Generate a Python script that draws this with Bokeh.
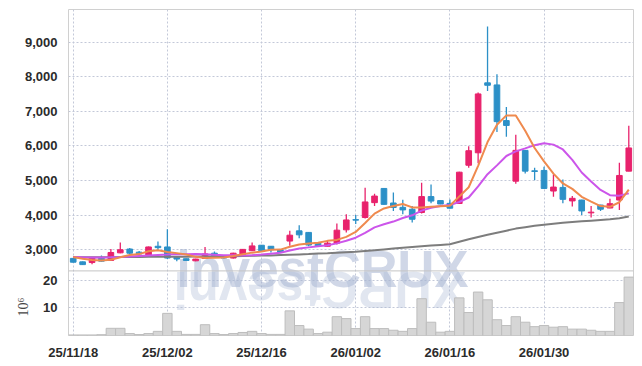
from bokeh.plotting import figure
from bokeh.models import Range1d, FixedTicker, ColumnDataSource, NumeralTickFormatter, Span, Title
from bokeh.embed import file_html
from bokeh.resources import INLINE
from bokeh.core.properties import value

# ---------------- data ----------------
dates = ["25/11/18", "25/11/19", "25/11/20", "25/11/21", "25/11/24", "25/11/25", "25/11/26", "25/11/27",
         "25/11/28", "25/12/01", "25/12/02", "25/12/03", "25/12/04", "25/12/05", "25/12/08", "25/12/09",
         "25/12/10", "25/12/11", "25/12/12", "25/12/15", "25/12/16", "25/12/17", "25/12/18", "25/12/19",
         "25/12/22", "25/12/23", "25/12/24", "25/12/26", "25/12/29", "25/12/30", "26/01/02", "26/01/05",
         "26/01/06", "26/01/07", "26/01/08", "26/01/09", "26/01/12", "26/01/13", "26/01/14", "26/01/15",
         "26/01/16", "26/01/19", "26/01/20", "26/01/21", "26/01/22", "26/01/23", "26/01/26", "26/01/27",
         "26/01/28", "26/01/29", "26/01/30", "26/02/02", "26/02/03", "26/02/04", "26/02/05", "26/02/06",
         "26/02/09", "26/02/10", "26/02/11", "26/02/12"]

opens = [2750, 2650, 2630, 2750, 2690, 2910, 3020, 2930, 2830, 3100,
         3080, 2780, 2740, 2680, 2750, 2900, 2820, 2760, 2860, 2970,
         3130, 3100, 3000, 3250, 3545, 3500, 3190, 3100, 3190, 3575,
         3870, 3930, 4360, 4770, 4350, 4225, 4170, 4075, 4535, 4420,
         4340, 4335, 5440, 5800, 7820, 7760, 6730, 4980, 5870, 5280,
         5290, 4695, 4800, 4410, 4435, 4065, 4290, 4205, 4435, 5270]
highs = [2760, 2660, 2770, 2830, 3020, 3210, 3050, 2960, 3090, 3240,
         3590, 2790, 2750, 2740, 3080, 2950, 2830, 2910, 3020, 3210,
         3140, 3110, 3010, 3545, 3710, 3510, 3200, 3260, 3760, 4025,
         4000, 4790, 4620, 4780, 4650, 4440, 4260, 4935, 4885, 4425,
         4450, 5250, 5990, 7540, 9450, 8070, 7120, 6320, 5880, 5370,
         5395, 5170, 5030, 4550, 4440, 4265, 4300, 4475, 5510, 6580]
lows = [2630, 2560, 2580, 2660, 2680, 2900, 2860, 2850, 2820, 3000,
        2730, 2670, 2680, 2670, 2740, 2800, 2750, 2750, 2850, 2960,
        2960, 2920, 2910, 3115, 3330, 3100, 3090, 3090, 3150, 3500,
        3740, 3900, 4260, 4300, 4120, 4025, 3790, 4050, 4340, 4310,
        4190, 4330, 5370, 5500, 7585, 6400, 6260, 4905, 5200, 5010,
        4760, 4530, 4340, 4245, 4000, 3930, 4120, 4200, 4150, 5265]
closes = [2640, 2570, 2760, 2670, 2920, 3000, 2900, 2880, 3080, 3060,
          2760, 2730, 2690, 2730, 2880, 2810, 2760, 2900, 3010, 3110,
          2970, 3000, 2930, 3420, 3430, 3135, 3100, 3190, 3565, 3860,
          3855, 4380, 4550, 4310, 4220, 4150, 3880, 4535, 4405, 4320,
          4200, 5240, 5860, 7500, 7750, 6700, 6590, 5870, 5270, 5260,
          4770, 4810, 4455, 4485, 4120, 4085, 4170, 4330, 5145, 5940]
volumes = [0.2, 0.2, 0.2, 0.3, 2.6, 2.6, 0.7, 0.35, 0.7, 1.5,
           8.0, 1.5, 0.4, 0.4, 3.9, 0.7, 0.35, 0.7, 1.1, 1.5,
           0.7, 0.4, 0.4, 8.9, 3.6, 2.3, 0.7, 1.2, 6.8, 6.1,
           2.5, 6.8, 2.5, 2.5, 1.9, 1.5, 2.5, 13.3, 4.8, 1.2,
           1.5, 13.6, 8.3, 15.7, 12.9, 5.7, 3.6, 6.8, 4.8, 3.2,
           3.6, 3.0, 3.2, 2.3, 2.3, 1.9, 1.5, 1.5, 11.9, 21.1]
ma_short = [2790, 2740, 2700, 2690, 2712, 2784, 2850, 2874, 2956, 2984,
            2936, 2902, 2864, 2794, 2758, 2768, 2774, 2816, 2872, 2916,
            2948, 2998, 3004, 3086, 3150, 3180, 3200, 3256, 3284, 3370,
            3514, 3770, 4042, 4192, 4264, 4322, 4222, 4218, 4238, 4256,
            4268, 4540, 4804, 5424, 6110, 6610, 6880, 6880, 6436, 5938,
            5552, 5198, 4914, 4758, 4528, 4390, 4262, 4240, 4372, 4736]
ma_mid = [2790, 2780, 2775, 2775, 2780, 2790, 2805, 2820, 2835, 2848,
          2860, 2876, 2869, 2875, 2871, 2852, 2838, 2840, 2833, 2838,
          2860, 2886, 2910, 2980, 3034, 3068, 3100, 3128, 3184, 3258,
          3348, 3485, 3645, 3734, 3813, 3917, 3995, 4130, 4214, 4260,
          4292, 4378, 4509, 4828, 5181, 5436, 5707, 5840, 5927, 6020,
          6078, 6036, 5896, 5594, 5231, 4970, 4728, 4574, 4562, 4628]
ma_long = [2780, 2780, 2780, 2785, 2785, 2790, 2790, 2790, 2795, 2795,
           2800, 2800, 2800, 2805, 2805, 2810, 2810, 2815, 2820, 2825,
           2830, 2835, 2845, 2855, 2865, 2875, 2890, 2900, 2915, 2930,
           2945, 2965, 2985, 3010, 3035, 3060, 3080, 3100, 3120, 3140,
           3160, 3230, 3300, 3370, 3430, 3490, 3550, 3610, 3650, 3690,
           3720, 3750, 3780, 3800, 3820, 3840, 3860, 3880, 3910, 3960]

tick_labels = ["25/11/18", "25/12/02", "25/12/16", "26/01/02", "26/01/16", "26/01/30"]
price_ticks = [3000, 4000, 5000, 6000, 7000, 8000, 9000]
volume_ticks = [10, 20]
volume_unit = "10\u2076"
watermark = "investCRUX"

# ---------------- layout constants ----------------
P_LO, P_HI = 522.5, 9938.8        # price scale across the whole frame
V_LO, V_HI = 0.0, 117.8           # volume scale across the whole frame
PANEL_SPLIT = 2388.6              # price value of the line between the two panels

UP = "#e8226c"
DOWN = "#2c90c7"
GRID = "#c3c8d8"
OUTLINE = "#d0d0d0"
TICK_FONT = "Liberation Sans"


def vol_to_price(v):
    return P_LO + (v - V_LO) / (V_HI - V_LO) * (P_HI - P_LO)


idx = list(range(len(dates)))
colors = [UP if c >= o else DOWN for o, c in zip(opens, closes)]
src = ColumnDataSource(dict(
    x=idx, high=highs, low=lows,
    top=[max(o, c) for o, c in zip(opens, closes)],
    bottom=[min(o, c) for o, c in zip(opens, closes)],
    color=colors, vol=volumes))

tick_pos = [dates.index(t) for t in tick_labels]
vol_tick_pos = [round(vol_to_price(v)) for v in volume_ticks]

p = figure(width=635, height=362,
           x_range=Range1d(-0.5, len(dates) - 0.5), y_range=Range1d(P_LO, P_HI),
           output_backend="svg", toolbar_location=None,
           min_border_left=68, min_border_right=2, min_border_top=9, min_border_bottom=25)
p.extra_y_ranges = {"vol": Range1d(V_LO, V_HI)}

p.outline_line_color = OUTLINE
p.background_fill_color = "white"
p.border_fill_color = "white"

for g in (p.xgrid, p.ygrid):
    g.grid_line_color = GRID
    g.grid_line_dash = "2 2"
    g.grid_line_width = 1

# y axis: price ticks plus the volume ticks of the lower panel
ya = p.yaxis[0]
ya.ticker = FixedTicker(ticks=price_ticks + vol_tick_pos)
ya.formatter = NumeralTickFormatter(format="0,0")
ya.major_label_overrides = {tp: str(v) for tp, v in zip(vol_tick_pos, volume_ticks)}
xa = p.xaxis[0]
xa.ticker = FixedTicker(ticks=tick_pos)
xa.major_label_overrides = {tp: t for tp, t in zip(tick_pos, tick_labels)}
for ax in (xa, ya):
    ax.axis_line_color = None
    ax.major_tick_line_color = None
    ax.minor_tick_line_color = None
    ax.major_label_text_font = TICK_FONT
    ax.major_label_text_font_style = "bold"
    ax.major_label_text_font_size = "13px"
    ax.major_label_text_color = "#2b2b2b"
ya.major_label_standoff = 5
xa.major_label_standoff = 3

# watermark and its (upside-down) reflection below the panel split
p.text(x=[10.97], y=[2417], text=[watermark], text_font=value("Liberation Sans"),
       text_font_style="bold", text_font_size="51px", text_color="#aab6d3",
       text_alpha=0.55, text_baseline="alphabetic", text_align="left")
p.text(x=[26.15], y=[16.8], text=[watermark[::-1]], text_font=value("Liberation Sans"),
       text_font_style="bold", text_font_size="51px", text_color="#aab6d3",
       text_alpha=0.35, text_baseline="middle", text_align="center",
       angle=3.14159265, y_range_name="vol")

# volume bars
p.vbar(x="x", width=1.0, top="vol", bottom=0, fill_color="#d6d6d6",
       line_color="#bdbdbd", line_width=1, source=src, y_range_name="vol")

# candles
p.segment(x0="x", y0="low", x1="x", y1="high", line_color="color", line_width=1.3, source=src)
p.vbar(x="x", width=0.6, top="top", bottom="bottom", fill_color="color",
       line_color="color", line_width=1, source=src)

# moving averages
p.line(idx, ma_long, line_color="#7d7d7d", line_width=2)
p.line(idx, ma_mid, line_color="#cc55ea", line_width=2)
p.line(idx, ma_short, line_color="#ef8a4e", line_width=2)

# separator between price and volume panels
p.add_layout(Span(location=PANEL_SPLIT, dimension="width", line_color="#c4c4c4", line_width=1))

# unit label of the volume axis
p.add_layout(Title(text=volume_unit, align="left", offset=19, standoff=-19,
                   text_font="Liberation Serif", text_font_size="14px",
                   text_font_style="normal", text_color="#444444"), "left")

open("out.html", "w").write(file_html(p, INLINE))
